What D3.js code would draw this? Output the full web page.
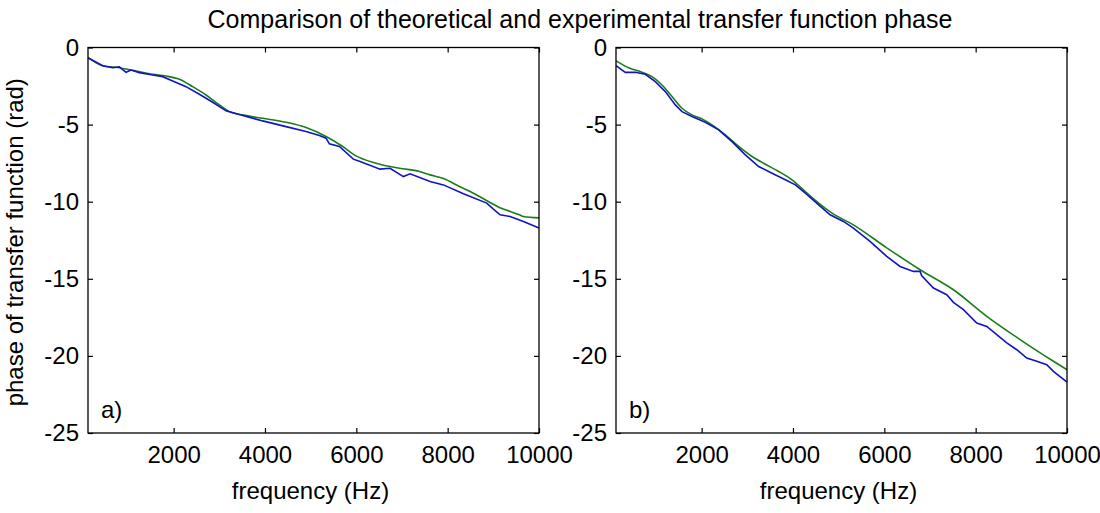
<!DOCTYPE html>
<html>
<head>
<meta charset="utf-8">
<script src="https://cdn.jsdelivr.net/npm/d3@7/dist/d3.min.js"></script>
<style>
  html, body { margin: 0; padding: 0; background: #fff; }
  svg { display: block; }
  text { font-family: "Liberation Sans", Arial, sans-serif; fill: #000; }
</style>
</head>
<body>
<svg id="chart" width="1100" height="513"></svg>
<script>
// ---- data ----
const titleText = "Comparison of theoretical and experimental transfer function phase";
const xLabel = "frequency (Hz)";
const yLabel = "phase of transfer function (rad)";
const panelLabels = ["a)", "b)"];
const xTicks = [2000, 4000, 6000, 8000, 10000];
const yTicks = [0, -5, -10, -15, -20, -25];

// panel a) experimental (blue)
const freqExpA = [125, 446, 665, 811, 957, 1067, 1249, 1541, 1760, 1979, 2271, 2563, 2855, 3147, 3512, 3950, 4461, 4899, 5191, 5337, 5410, 5629, 5935, 6082, 6520, 6739, 7030, 7177, 7615, 7907, 8345, 8856, 9002, 9148, 9367, 9659, 10000];
const phaseExpA = [-0.66, -1.18, -1.31, -1.26, -1.61, -1.46, -1.63, -1.78, -1.89, -2.17, -2.54, -3.03, -3.55, -4.11, -4.41, -4.76, -5.13, -5.45, -5.71, -5.88, -6.25, -6.42, -7.24, -7.39, -7.89, -7.83, -8.37, -8.19, -8.69, -8.91, -9.49, -10.09, -10.48, -10.85, -10.96, -11.28, -11.71];
// panel a) theoretical (green)
const freqTheoA = [125, 446, 811, 1176, 1541, 1833, 2125, 2417, 2709, 3001, 3220, 3512, 3950, 4461, 4899, 5337, 5702, 5994, 6432, 6943, 7381, 7615, 7907, 8257, 8491, 8695, 8929, 9133, 9367, 9571, 9659, 10000];
const phaseTheoA = [-0.66, -1.18, -1.31, -1.52, -1.74, -1.85, -2.06, -2.54, -3.08, -3.72, -4.16, -4.37, -4.59, -4.85, -5.19, -5.77, -6.42, -7.03, -7.5, -7.83, -8.04, -8.26, -8.5, -9.01, -9.34, -9.66, -10.05, -10.37, -10.63, -10.85, -10.96, -11.05];

// panel b) experimental (blue)
const freqExpB = [125, 329, 548, 767, 986, 1205, 1424, 1570, 1789, 2081, 2373, 2665, 2957, 3249, 3541, 3833, 4052, 4271, 4563, 4812, 5104, 5323, 5688, 6053, 6345, 6637, 6783, 6820, 7075, 7367, 7513, 7732, 8024, 8243, 8462, 8681, 8900, 9119, 9338, 9557, 9703, 10000];
const phaseExpB = [-1.18, -1.61, -1.61, -1.74, -2.21, -2.86, -3.72, -4.16, -4.48, -4.85, -5.34, -6.10, -6.96, -7.72, -8.15, -8.58, -8.91, -9.45, -10.2, -10.85, -11.28, -11.71, -12.57, -13.55, -14.2, -14.52, -14.52, -14.8, -15.6, -16.03, -16.53, -17.0, -17.87, -18.09, -18.62, -19.16, -19.6, -20.14, -20.35, -20.57, -21.0, -21.7];
// panel b) theoretical (green)
const freqTheoB = [125, 402, 694, 913, 1132, 1351, 1570, 1789, 2008, 2227, 2519, 2811, 3103, 3395, 3687, 3979, 4271, 4563, 4855, 5323, 6053, 6783, 7513, 8243, 8973, 9703, 10000];
const phaseTheoB = [-0.87, -1.31, -1.61, -1.89, -2.43, -3.18, -3.94, -4.37, -4.63, -5.02, -5.67, -6.42, -7.07, -7.57, -8.04, -8.58, -9.34, -10.09, -10.74, -11.5, -12.99, -14.41, -15.71, -17.43, -18.94, -20.35, -20.9];

// ---- layout ----
const svg = d3.select("#chart");
const yTop = 47.5, yBottom = 433;
const panels = [
  { left: 88, right: 539, label: panelLabels[0], showYLabel: true,
    exp: { f: freqExpA, p: phaseExpA }, theo: { f: freqTheoA, p: phaseTheoA } },
  { left: 616, right: 1067, label: panelLabels[1], showYLabel: false,
    exp: { f: freqExpB, p: phaseExpB }, theo: { f: freqTheoB, p: phaseTheoB } }
];
const blue = "#1212c8", green = "#1a7d1a";
const fontSize = 24;
const fmt = d => String(d);

svg.append("rect").attr("width", 1100).attr("height", 513).attr("fill", "#fff");

svg.append("text")
  .attr("x", 580).attr("y", 28)
  .attr("text-anchor", "middle")
  .style("font-size", "25px")
  .text(titleText);

panels.forEach(pn => {
  const x = d3.scaleLinear().domain([125, 10000]).range([pn.left, pn.right]);
  const y = d3.scaleLinear().domain([-25, 0]).range([yBottom, yTop]);
  const g = svg.append("g");

  const expPts = pn.exp.f.map((f, i) => [f, pn.exp.p[i]]);
  const theoPts = pn.theo.f.map((f, i) => [f, pn.theo.p[i]]);

  g.append("path").datum(theoPts)
    .attr("d", d3.line().x(d => x(d[0])).y(d => y(d[1])).curve(d3.curveMonotoneX))
    .attr("fill", "none").attr("stroke", green).attr("stroke-width", 1.6);
  g.append("path").datum(expPts)
    .attr("d", d3.line().x(d => x(d[0])).y(d => y(d[1])))
    .attr("fill", "none").attr("stroke", blue).attr("stroke-width", 1.6);

  // axes
  const ax = g.append("g").attr("transform", `translate(0,${yBottom})`)
    .call(d3.axisBottom(x).tickValues(xTicks).tickSizeInner(-5).tickSizeOuter(0).tickPadding(13).tickFormat(fmt));
  const ay = g.append("g").attr("transform", `translate(${pn.left},0)`)
    .call(d3.axisLeft(y).tickValues(yTicks).tickSizeInner(-5).tickSizeOuter(0).tickPadding(9).tickFormat(fmt));
  const at = g.append("g").attr("transform", `translate(0,${yTop})`)
    .call(d3.axisTop(x).tickValues(xTicks).tickSizeInner(-5).tickSizeOuter(0).tickFormat(""));
  const ar = g.append("g").attr("transform", `translate(${pn.right},0)`)
    .call(d3.axisRight(y).tickValues(yTicks).tickSizeInner(-5).tickSizeOuter(0).tickFormat(""));
  [ax, ay, at, ar].forEach(a => {
    a.select(".domain").remove();
    a.selectAll("line").attr("stroke", "#000").attr("stroke-width", 1.2);
    a.selectAll("text").style("font-size", fontSize + "px")
      .style("font-family", "'Liberation Sans', Arial, sans-serif").attr("fill", "#000");
  });

  g.append("rect")
    .attr("x", pn.left).attr("y", yTop)
    .attr("width", pn.right - pn.left).attr("height", yBottom - yTop)
    .attr("fill", "none").attr("stroke", "#000").attr("stroke-width", 1.3);

  g.append("text")
    .attr("x", (pn.left + pn.right) / 2 - 3).attr("y", 499)
    .attr("text-anchor", "middle")
    .style("font-size", fontSize + "px")
    .text(xLabel);

  g.append("text")
    .attr("x", pn.left + 13).attr("y", 418)
    .style("font-size", fontSize + "px")
    .text(pn.label);

  if (pn.showYLabel) {
    g.append("text")
      .attr("transform", `translate(23,${(yTop + yBottom) / 2 + 2}) rotate(-90)`)
      .attr("text-anchor", "middle")
      .style("font-size", fontSize + "px")
      .text(yLabel);
  }
});
</script>
</body>
</html>
